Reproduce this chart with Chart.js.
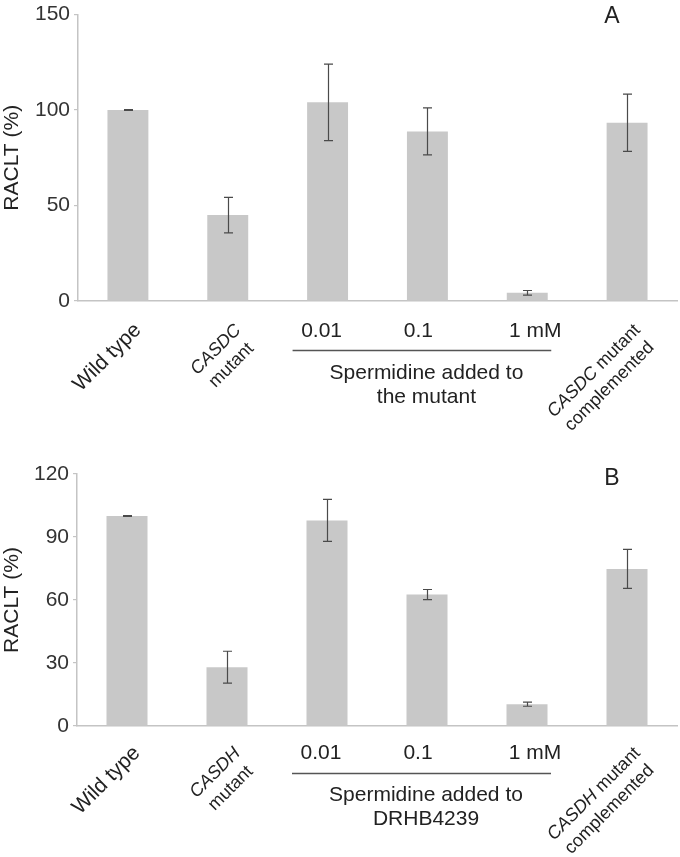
<!DOCTYPE html>
<html>
<head>
<meta charset="utf-8">
<script src="https://cdn.jsdelivr.net/npm/chart.js@4/dist/chart.umd.min.js"></script>
<style>
  html, body { margin: 0; padding: 0; background: #ffffff; }
  #wrap { position: relative; width: 680px; height: 857px; }
  #cA { position: absolute; left: 0; top: 0; }
  #cB { position: absolute; left: 0; top: 430px; }
</style>
</head>
<body>
<div id="wrap">
  <canvas id="cA" width="680" height="430"></canvas>
  <canvas id="cB" width="680" height="427"></canvas>
</div>
<script>
// ---------- DATA ----------
const categoriesA = ['Wild type', 'CASDC mutant', '0.01', '0.1', '1 mM', 'CASDC mutant complemented'];
const categoriesB = ['Wild type', 'CASDH mutant', '0.01', '0.1', '1 mM', 'CASDH mutant complemented'];

const valuesA = [100, 45, 104, 88.8, 4.3, 93.3];
const errorsA = [0.2, 9.3, 20, 12.3, 1.2, 15];

const valuesB = [100, 28, 97.9, 62.6, 10.4, 74.8];
const errorsB = [0.2, 7.6, 10, 2.4, 1.0, 9.3];

const yTicksA = [0, 50, 100, 150];
const yTicksB = [0, 30, 60, 90, 120];

// rotated category labels: index -> lines, each line = segments [text, italic]
const rotatedA = [
  [0, [[['Wild type', false]]], 21],
  [1, [[['CASDC', true]], [['mutant', false]]], 18],
  [5, [[['CASDC', true], [' mutant', false]], [['complemented', false]]], 18]
];
const rotatedB = [
  [0, [[['Wild type', false]]], 21],
  [1, [[['CASDH', true]], [['mutant', false]]], 18],
  [5, [[['CASDH', true], [' mutant', false]], [['complemented', false]]], 18]
];
const concLabels = [[2, '0.01'], [3, '0.1'], [4, '1 mM']];
const groupTextA = ['Spermidine added to', 'the mutant'];
const groupTextB = ['Spermidine added to', 'DRHB4239'];
const panelA = 'A';
const panelB = 'B';

// ---------- STYLE ----------
const FONT = '"Liberation Sans", Arial, Helvetica, sans-serif';
const BAR = '#c8c8c8';
const AXIS = '#c4c4c4';
const TXT = '#222222';

const errorBarPlugin = {
  id: 'errorBars',
  afterDatasetsDraw(chart, args, o) {
    const ctx = chart.ctx, ys = chart.scales.y;
    const meta = chart.getDatasetMeta(0);
    const vals = chart.data.datasets[0].data;
    ctx.save();
    ctx.strokeStyle = '#4a4a4a';
    ctx.lineWidth = 1.2;
    meta.data.forEach((bar, i) => {
      const v = vals[i], e = o.errors[i];
      const x = Math.round(bar.x) + 0.5;
      const yt = ys.getPixelForValue(v + e);
      const yb = ys.getPixelForValue(v - e);
      ctx.beginPath();
      ctx.moveTo(x, yt); ctx.lineTo(x, yb);
      ctx.moveTo(x - 4.5, yt); ctx.lineTo(x + 4.5, yt);
      ctx.moveTo(x - 4.5, yb); ctx.lineTo(x + 4.5, yb);
      ctx.stroke();
    });
    ctx.restore();
  }
};

const labelPlugin = {
  id: 'catLabels',
  afterDraw(chart, args, o) {
    const ctx = chart.ctx, xs = chart.scales.x;
    const base = chart.chartArea.bottom;
    ctx.save();
    ctx.fillStyle = TXT;
    ctx.textBaseline = 'alphabetic';
    // rotated labels
    o.rotated.forEach(([idx, lines, size]) => {
      const fontFor = (it) => (it ? 'italic ' : '') + size + 'px ' + FONT;
      const widths = lines.map(segs => segs.reduce((w, [t, it]) => { ctx.font = fontFor(it); return w + ctx.measureText(t).width; }, 0));
      const maxW = Math.max(...widths);
      const lh = size * 1.22;
      ctx.save();
      ctx.translate(xs.getPixelForValue(idx) + 14, base + o.rotY);
      ctx.rotate(-Math.PI / 4);
      ctx.textAlign = 'left';
      lines.forEach((segs, li) => {
        let x = -maxW / 2 - widths[li] / 2;
        segs.forEach(([t, it]) => {
          ctx.font = fontFor(it);
          ctx.fillText(t, x, li * lh);
          x += ctx.measureText(t).width;
        });
      });
      ctx.restore();
    });
    // concentration labels
    ctx.font = '21px ' + FONT;
    ctx.textAlign = 'center';
    const offs = [-6, -9, 8];
    o.conc.forEach(([idx, t], k) => {
      ctx.fillText(t, xs.getPixelForValue(idx) + offs[k], base + o.concY);
    });
    // bracket line
    ctx.strokeStyle = '#555555';
    ctx.lineWidth = 1.5;
    ctx.beginPath();
    ctx.moveTo(xs.getPixelForValue(2) - 35, base + o.lineY + 0.5);
    ctx.lineTo(xs.getPixelForValue(4) + 24, base + o.lineY + 0.5);
    ctx.stroke();
    // group text
    const gx = xs.getPixelForValue(3) - 1;
    o.group.forEach((t, i) => ctx.fillText(t, gx, base + o.groupY + i * 24));
    // panel letter
    ctx.font = '23px ' + FONT;
    ctx.fillText(o.panel, o.panelX, o.panelY);
    ctx.restore();
  }
};

function makeChart(id, cats, vals, errs, yt, rot, group, panel, geo) {
  return new Chart(document.getElementById(id), {
    type: 'bar',
    data: {
      labels: cats,
      datasets: [{ data: vals, backgroundColor: BAR, barPercentage: 0.41, categoryPercentage: 1, borderWidth: 0 }]
    },
    options: {
      responsive: false,
      animation: false,
      layout: { padding: { top: geo.top, right: 3, left: 0, bottom: 0 } },
      plugins: {
        legend: { display: false },
        tooltip: { enabled: false },
        errorBars: { errors: errs },
        catLabels: { rotated: rot, conc: concLabels, group: group, panel: panel,
                     rotY: geo.rotY, concY: geo.concY, lineY: geo.lineY, groupY: geo.groupY,
                     panelX: 612, panelY: geo.panelY }
      },
      scales: {
        x: {
          ticks: { display: false },
          grid: { display: false },
          border: { color: AXIS, width: 1.5 },
          afterFit(s) { s.height = geo.xh; }
        },
        y: {
          min: yt[0], max: yt[yt.length - 1],
          afterBuildTicks(s) { s.ticks = yt.map(v => ({ value: v })); },
          ticks: { font: { size: 21, family: FONT, lineHeight: 1 }, color: '#333333', padding: 4 },
          grid: { drawOnChartArea: false, tickLength: 4, color: AXIS, lineWidth: 1.2 },
          border: { color: AXIS, width: 1.5 },
          title: { display: true, text: 'RACLT (%)', font: { size: 21, family: FONT }, color: TXT, padding: 0 },
          afterFit(s) { s.width = geo.yw; }
        }
      }
    },
    plugins: [errorBarPlugin, labelPlugin]
  });
}

makeChart('cA', categoriesA, valuesA, errorsA, yTicksA, rotatedA, groupTextA, panelA,
  { top: 11, xh: 129, yw: 78, rotY: 30, concY: 36, lineY: 49, groupY: 78, panelY: 23 });
makeChart('cB', categoriesB, valuesB, errorsB, yTicksB, rotatedB, groupTextB, panelB,
  { top: 44, xh: 131, yw: 77, rotY: 28, concY: 33, lineY: 47, groupY: 75, panelY: 55 });
</script>
</body>
</html>
